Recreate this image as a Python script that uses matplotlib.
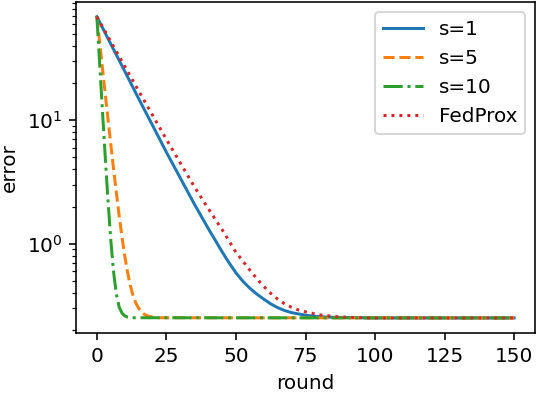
import matplotlib
matplotlib.use("Agg")
import matplotlib.pyplot as plt

# values (error vs round, log scale)
rounds_s1 = [0, 5, 10, 15, 20, 25, 30, 35, 40, 42.5, 45, 47.5, 50, 52.5, 55, 57.5, 60,
             62.5, 65, 67.5, 70, 75, 80, 85, 90, 100, 150]
err_s1 = [69, 41.5, 25, 15, 9.1, 5.5, 3.4, 2.1, 1.33, 1.07, 0.86, 0.70, 0.58, 0.495, 0.435,
          0.39, 0.355, 0.325, 0.303, 0.287, 0.276, 0.263, 0.256, 0.253, 0.252, 0.25, 0.25]

rounds_s5 = [0, 1, 2, 3, 4, 5, 6, 7, 8, 9, 10, 11, 12, 13, 14, 15, 16, 17, 18, 19, 20, 21, 22, 150]
err_s5 = [69, 42.6, 26.4, 16.4, 10.2, 6.4, 4.0, 2.6, 1.69, 1.14, 0.80, 0.59, 0.46, 0.38,
          0.33, 0.30, 0.28, 0.268, 0.261, 0.257, 0.254, 0.252, 0.251, 0.25]

rounds_s10 = [0, 1, 2, 3, 4, 5, 6, 7, 8, 9, 10, 11, 12, 13, 150]
err_s10 = [69, 28.6, 11.9, 5.06, 2.23, 1.07, 0.59, 0.39, 0.307, 0.274, 0.26, 0.254, 0.252, 0.251, 0.25]

rounds_fp = [0, 5, 10, 15, 20, 25, 30, 35, 40, 45, 47.5, 50, 52.5, 55, 57.5, 60, 62.5,
             65, 67.5, 70, 72.5, 75, 80, 85, 90, 95, 100, 150]
err_fp = [69, 43.4, 27.4, 17.3, 11.0, 7.0, 4.5, 2.9, 1.93, 1.3, 1.05, 0.85, 0.72, 0.61,
          0.52, 0.45, 0.395, 0.355, 0.325, 0.305, 0.29, 0.28, 0.265, 0.257, 0.253, 0.251,
          0.25, 0.25]

dpi = 144
fig = plt.figure(figsize=(538 / dpi, 394 / dpi), dpi=dpi)
ax = fig.add_axes([0.1413, 0.1548, 0.8532, 0.8409])

ax.plot(rounds_s1, err_s1, '-', label='s=1')
ax.plot(rounds_s5, err_s5, '--', label='s=5')
ax.plot(rounds_s10, err_s10, '-.', label='s=10')
ax.plot(rounds_fp, err_fp, ':', label='FedProx')

ax.set_yscale('log')
ax.set_xlabel('round')
ax.set_ylabel('error')
ax.legend(loc='upper right')

fig.savefig('out.png', dpi=dpi)
